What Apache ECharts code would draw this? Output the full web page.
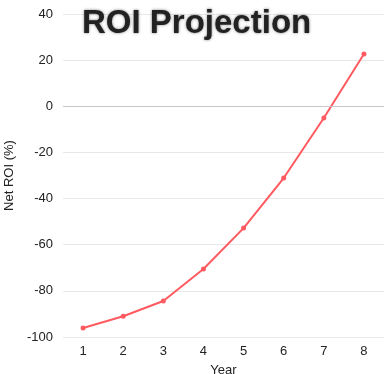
<!DOCTYPE html>
<html>
<head>
<meta charset="utf-8">
<script src="https://cdn.jsdelivr.net/npm/echarts@6/dist/echarts.min.js"></script>
<style>
  html, body { margin: 0; padding: 0; background: #fff; }
  #chart { width: 388px; height: 374px; }
</style>
</head>
<body>
<div id="chart"></div>
<script>
// Projected net return on investment per year
const years = ['1', '2', '3', '4', '5', '6', '7', '8'];
const netRoi = [-96.1, -91.0, -84.4, -70.5, -52.8, -31.1, -5.1, 22.7];
const yTicks = { min: -100, max: 40, step: 20 };

const font = 'Liberation Sans, Arial, Helvetica, sans-serif';
const chart = echarts.init(document.getElementById('chart'), null, { renderer: 'canvas' });

chart.setOption({
  animation: false,
  backgroundColor: '#ffffff',
  title: {
    text: 'ROI Projection',
    left: 77,
    top: 2,
    textStyle: {
      fontFamily: font,
      fontSize: 33,
      fontWeight: 'bold',
      color: '#222',
      textShadowColor: 'rgba(0,0,0,0.5)',
      textShadowBlur: 3
    }
  },
  grid: { left: 63, right: 4, top: 14, bottom: 37, outerBoundsMode: 'none', containLabel: false },
  xAxis: {
    type: 'category',
    data: years,
    boundaryGap: true,
    name: 'Year',
    nameLocation: 'middle',
    nameGap: 27,
    nameTextStyle: { fontFamily: font, fontSize: 13, color: '#222' },
    axisLine: { show: false },
    axisTick: { show: false },
    axisLabel: { fontFamily: font, fontSize: 13, color: '#222', margin: 8 },
    splitLine: { show: false }
  },
  yAxis: {
    type: 'value',
    min: yTicks.min,
    max: yTicks.max,
    interval: yTicks.step,
    name: 'Net ROI (%)',
    nameLocation: 'middle',
    nameGap: 42,
    nameTextStyle: { fontFamily: font, fontSize: 13, color: '#222' },
    axisLine: { show: false },
    axisTick: { show: false },
    axisLabel: { fontFamily: font, fontSize: 13, color: '#222', margin: 10 },
    splitLine: { lineStyle: { color: '#e8e8e8', width: 1 } }
  },
  series: [{
    type: 'line',
    data: netRoi,
    smooth: false,
    symbol: 'circle',
    symbolSize: 5,
    lineStyle: { color: '#ff5a60', width: 2 },
    itemStyle: { color: '#ff5a60' },
    markLine: {
      silent: true,
      symbol: 'none',
      label: { show: false },
      lineStyle: { color: '#c8c8c8', type: 'solid', width: 1 },
      data: [{ yAxis: 0 }]
    },
    z: 3
  }]
});
</script>
</body>
</html>
